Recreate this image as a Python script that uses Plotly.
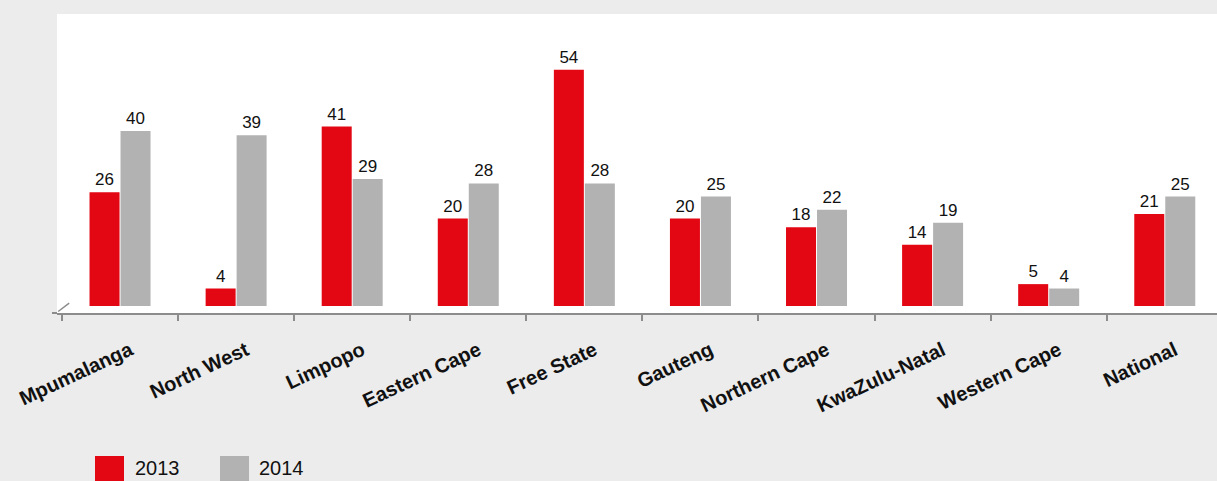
import plotly.graph_objects as go

categories = ["Mpumalanga", "North West", "Limpopo", "Eastern Cape", "Free State",
              "Gauteng", "Northern Cape", "KwaZulu-Natal", "Western Cape", "National"]
values_2013 = [26, 4, 41, 20, 54, 20, 18, 14, 5, 21]
values_2014 = [40, 39, 29, 28, 28, 25, 22, 19, 4, 25]
series_names = ["2013", "2014"]

RED = "#e30613"
GRAY = "#b2b2b2"
BG = "#ececec"
AXIS = "#8c8c8c"
FONT = "Liberation Sans, Arial, sans-serif"
colors = [RED, GRAY]

fig = go.Figure()
for name, vals, col in zip(series_names, [values_2013, values_2014], colors):
    fig.add_trace(go.Bar(
        x=categories, y=vals, name=name, marker=dict(color=col, line=dict(width=0)),
        text=[str(v) for v in vals], textposition="outside",
        textfont=dict(family=FONT, size=17, color="#111111"),
        cliponaxis=False, hoverinfo="x+y", showlegend=False,
    ))

# manual legend (large square swatches like the original)
legend_x = [(95, 133), (220, 257)]
shapes = [
    dict(type="line", xref="paper", yref="paper", x0=-0.0043, x1=0.0, y0=0, y1=0,
         line=dict(color=AXIS, width=2)),
    dict(type="line", xref="paper", yref="paper", x0=0.001, x1=0.0105, y0=0.005, y1=0.033,
         line=dict(color=AXIS, width=1.5)),
]
annotations = []
PW, PB, PH = 1160.0, 313.0, 299.0
for (sx, tx), name, col in zip(legend_x, series_names, colors):
    shapes.append(dict(type="rect", xref="paper", yref="paper",
                       x0=(sx - 57) / PW, x1=(sx + 29 - 57) / PW,
                       y0=(PB - 456) / PH, y1=(PB - 490) / PH,
                       fillcolor=col, line=dict(width=0)))
    annotations.append(dict(text=name, xref="paper", yref="paper",
                            x=(tx - 57) / PW, y=(PB - 468) / PH,
                            xanchor="left", yanchor="middle", showarrow=False,
                            font=dict(family=FONT, size=20, color="#111111")))

fig.update_layout(
    width=1217, height=481,
    margin=dict(l=57, r=0, t=14, b=168),
    paper_bgcolor=BG, plot_bgcolor="white",
    barmode="group", bargap=0.466, bargroupgap=0.032,
    font=dict(family=FONT, color="#111111"),
    showlegend=False,
    xaxis=dict(
        type="category", range=[-0.543, 9.45], showgrid=False, zeroline=False,
        showline=True, linecolor=AXIS, linewidth=2,
        ticks="outside", tickson="boundaries", ticklen=6, tickwidth=2, tickcolor=AXIS,
        tickangle=-25, ticklabelstandoff=16, ticklabelshift=10,
        tickfont=dict(family=FONT, size=20, color="#111111", weight="bold"),
    ),
    yaxis=dict(range=[-1.6, 66.74], visible=False, showgrid=False, zeroline=False),
    shapes=shapes,
    annotations=annotations,
)

fig.write_html("out.html", config={"displayModeBar": False},
               post_script="document.body.style.margin='0';document.body.style.overflow='hidden';")
